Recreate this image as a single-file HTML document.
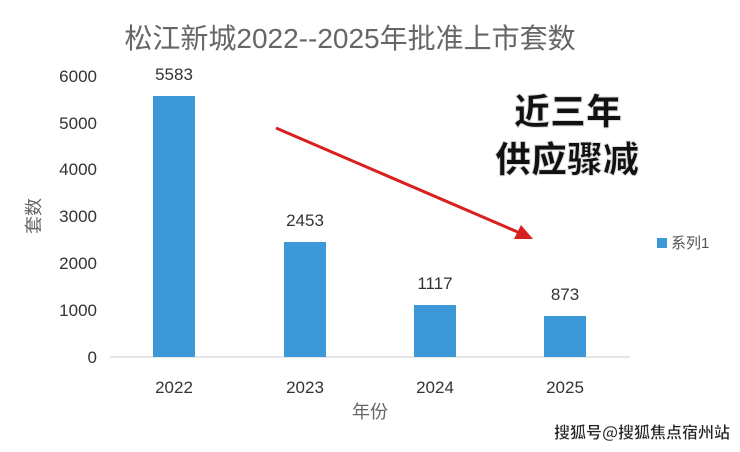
<!DOCTYPE html><html><head><meta charset="utf-8"><style>body{margin:0;background:#fff}</style></head><body>
<svg width="740" height="447" xmlns="http://www.w3.org/2000/svg" font-family="Liberation Sans, Noto Sans CJK SC, sans-serif">
<rect width="740" height="447" fill="#fff"/>
<text x="350" y="48" font-size="28" fill="#666" text-anchor="middle">松江新城2022--2025年批准上市套数</text>
<g font-size="17" fill="#333" text-anchor="end">
<text x="97" y="82">6000</text><text x="97" y="129">5000</text><text x="97" y="175">4000</text>
<text x="97" y="222">3000</text><text x="97" y="269">2000</text><text x="97" y="316">1000</text><text x="97" y="363">0</text>
</g>
<text x="40" y="216" font-size="18" fill="#666" text-anchor="middle" transform="rotate(-90 40 216)">套数</text>
<line x1="110" y1="357" x2="630" y2="357" stroke="#ccc"/>
<g fill="#3d98d8">
<rect x="153" y="96" width="42" height="261"/><rect x="284" y="242" width="42" height="115"/>
<rect x="414" y="305" width="42" height="52"/><rect x="544" y="316" width="42" height="41"/>
</g>
<g font-size="17" fill="#333" text-anchor="middle">
<text x="174" y="80">5583</text><text x="305" y="226">2453</text><text x="435" y="289">1117</text><text x="565" y="300">873</text>
<text x="174" y="393">2022</text><text x="305" y="393">2023</text><text x="435" y="393">2024</text><text x="565" y="393">2025</text>
</g>
<text x="370" y="418" font-size="18" fill="#666" text-anchor="middle">年份</text>
<rect x="657" y="238" width="10" height="10" fill="#3d98d8"/>
<text x="671" y="248" font-size="15" fill="#555">系列1</text>
<line x1="276" y1="128" x2="520" y2="233" stroke="#d92020" stroke-width="3"/>
<polygon points="533,239 514,239 521,225" fill="#d92020"/>
<g font-size="36" font-weight="900" fill="#111" stroke="#ddd" stroke-width="1" text-anchor="middle" font-family="Noto Sans CJK SC, sans-serif">
<text x="568" y="124">近三年</text><text x="567" y="172">供应骤减</text>
</g>
<text x="642" y="438" font-size="16" font-weight="bold" fill="#222" stroke="#fff" stroke-width="0.4" text-anchor="middle" font-family="Noto Sans CJK SC, sans-serif">搜狐号@搜狐焦点宿州站</text>
</svg></body></html>
